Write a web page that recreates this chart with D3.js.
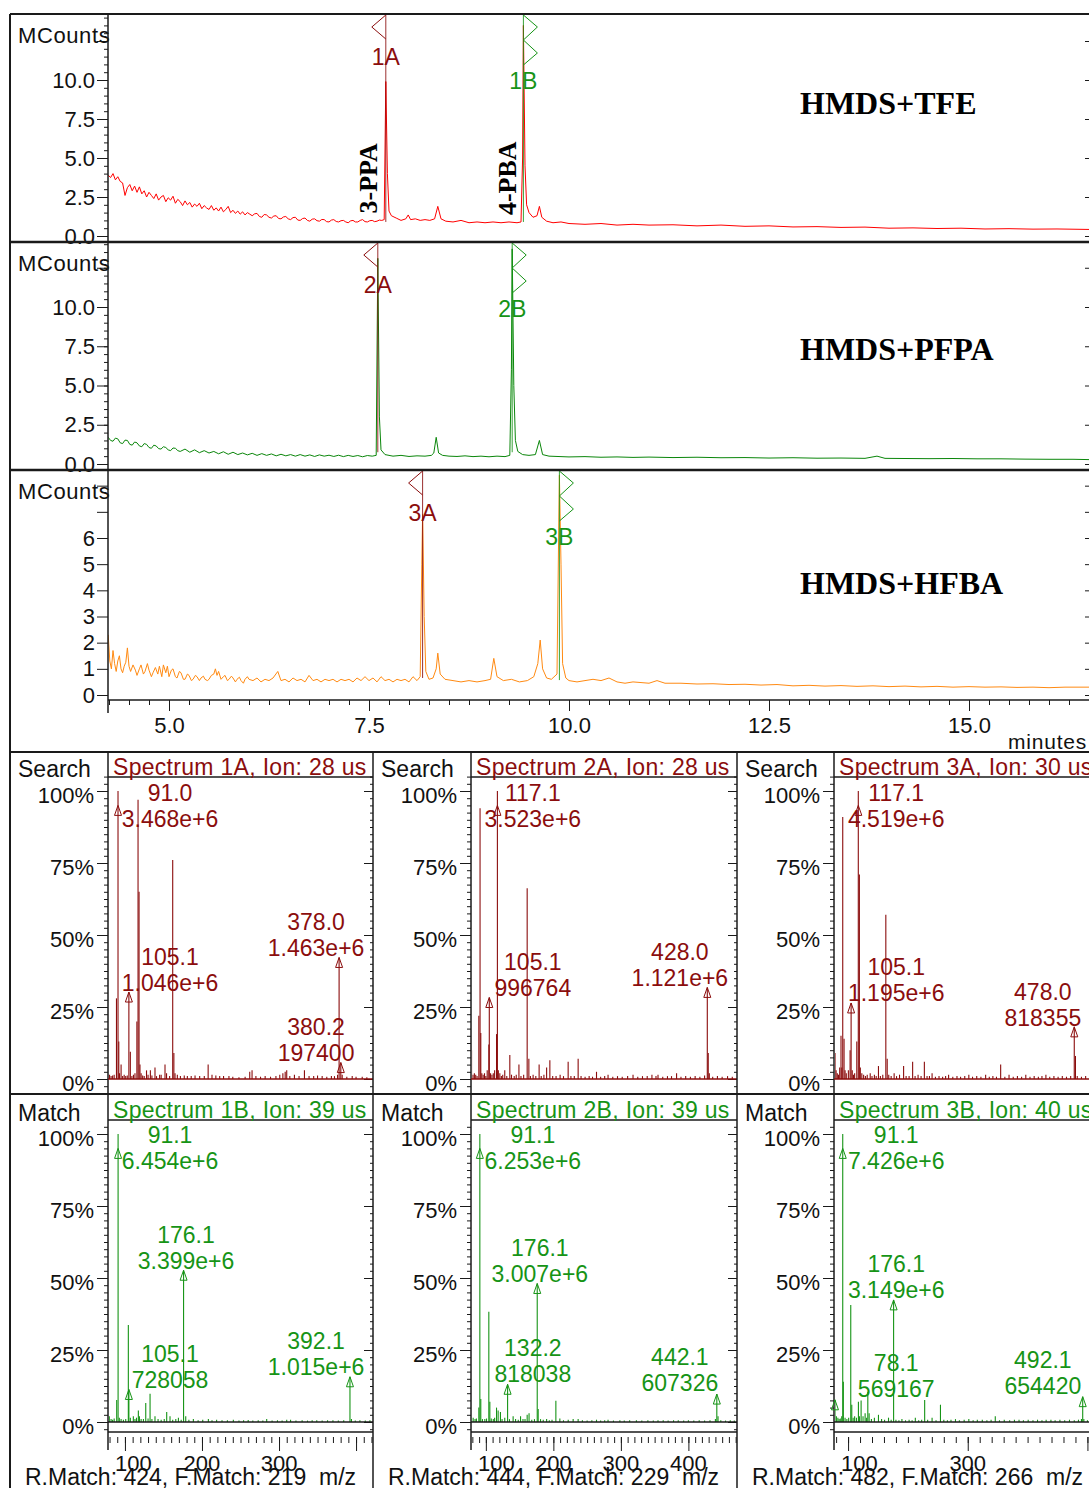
<!DOCTYPE html>
<html><head><meta charset="utf-8">
<script src="https://cdn.jsdelivr.net/npm/d3@7/dist/d3.min.js"></script>
<style>
body{margin:0;background:#fff;}
svg{display:block;font-family:"Liberation Sans",Arial,sans-serif;}
</style></head><body>
<svg id="chart" width="1089" height="1488"></svg>
<script>
// ---------------- DATA ----------------
// Chromatograms: [time (min), MCounts]
const traceTFE = [[4.24,3.9],[4.27,3.75],[4.30,4.0],[4.33,3.6],[4.36,3.8],[4.39,3.5],[4.42,3.4],[4.45,2.6],[4.48,3.1],[4.51,3.3],[4.54,2.9],[4.57,3.2],[4.60,2.8],[4.63,3.15],[4.66,2.7],[4.69,2.9],[4.72,2.5],[4.75,2.8],[4.78,2.6],[4.81,2.4],[4.84,2.7],[4.87,2.3],[4.90,2.5],[4.93,2.6],[4.96,2.2],[4.99,2.45],[5.02,2.3],[5.05,2.55],[5.08,2.1],[5.11,2.35],[5.14,2.2],[5.17,1.95],[5.20,2.25],[5.23,2.0],[5.26,2.15],[5.29,1.85],[5.32,2.05],[5.35,1.9],[5.38,2.1],[5.41,1.75],[5.44,1.95],[5.47,1.8],[5.50,1.7],[5.53,1.95],[5.56,1.65],[5.59,1.8],[5.62,1.6],[5.65,1.85],[5.68,1.55],[5.71,1.7],[5.74,1.9],[5.77,1.5],[5.80,1.65],[5.83,1.45],[5.86,1.6],[5.89,1.4],[5.92,1.55],[5.95,1.35],[5.98,1.5],[6.01,1.4],[6.04,1.3],[6.07,1.42],[6.10,1.45],[6.13,1.25],[6.16,1.2],[6.19,1.38],[6.22,1.35],[6.25,1.2],[6.28,1.15],[6.31,1.28],[6.34,1.3],[6.37,1.12],[6.40,1.1],[6.43,1.22],[6.46,1.25],[6.49,1.1],[6.52,1.05],[6.55,1.18],[6.58,1.2],[6.61,1.02],[6.64,1.0],[6.67,1.12],[6.70,1.15],[6.73,1.0],[6.76,0.95],[6.79,1.08],[6.82,1.1],[6.85,0.98],[6.88,0.95],[6.91,1.06],[6.94,1.05],[6.97,0.92],[7.00,0.9],[7.03,1.02],[7.06,1.05],[7.09,0.93],[7.12,0.9],[7.15,0.98],[7.18,1.0],[7.21,0.9],[7.24,0.85],[7.27,0.97],[7.30,1.0],[7.33,0.9],[7.36,0.9],[7.39,1.0],[7.42,1.05],[7.45,0.92],[7.48,0.9],[7.51,0.98],[7.54,1.0],[7.57,0.92],[7.60,0.95],[7.63,1.02],[7.66,1.0],[7.69,1.05],[7.71,9.9],[7.73,4.0],[7.75,1.6],[7.78,1.3],[7.84,1.15],[7.90,1.0],[7.96,1.1],[7.99,1.35],[8.02,1.05],[8.08,1.1],[8.14,1.0],[8.20,1.05],[8.26,1.0],[8.32,1.1],[8.36,1.9],[8.40,1.1],[8.46,0.95],[8.55,0.9],[8.65,1.0],[8.75,0.85],[8.85,0.9],[8.95,0.85],[9.05,0.9],[9.15,0.85],[9.25,0.9],[9.35,0.85],[9.40,0.9],[9.42,5.0],[9.43,13.5],[9.45,4.5],[9.47,2.0],[9.50,1.5],[9.55,1.2],[9.60,1.3],[9.63,1.9],[9.66,1.2],[9.72,0.95],[9.80,0.85],[9.90,0.9],[10.0,0.8],[10.2,0.75],[10.4,0.8],[10.6,0.7],[10.8,0.75],[11.0,0.7],[11.3,0.72],[11.6,0.65],[11.9,0.7],[12.2,0.62],[12.5,0.65],[12.8,0.58],[13.1,0.6],[13.4,0.55],[13.7,0.57],[14.0,0.5],[14.3,0.52],[14.6,0.48],[14.9,0.5],[15.2,0.45],[15.5,0.47],[15.8,0.44],[16.1,0.45],[16.5,0.42]];
const tracePFPA = [[4.24,1.7],[4.27,1.5],[4.30,1.45],[4.33,1.65],[4.36,1.6],[4.39,1.35],[4.42,1.3],[4.45,1.52],[4.48,1.5],[4.51,1.25],[4.54,1.2],[4.57,1.4],[4.60,1.35],[4.63,1.15],[4.66,1.1],[4.69,1.3],[4.72,1.25],[4.75,1.05],[4.78,1.0],[4.81,1.2],[4.84,1.15],[4.87,0.98],[4.90,0.95],[4.93,1.1],[4.96,1.05],[4.99,0.9],[5.02,0.85],[5.05,1.02],[5.08,1.0],[5.11,0.85],[5.14,0.8],[5.20,0.95],[5.26,0.75],[5.32,0.9],[5.38,0.72],[5.44,0.85],[5.50,0.7],[5.56,0.8],[5.62,0.65],[5.68,0.78],[5.74,0.62],[5.80,0.75],[5.86,0.6],[5.92,0.7],[5.98,0.58],[6.04,0.68],[6.10,0.55],[6.16,0.66],[6.22,0.55],[6.28,0.64],[6.34,0.52],[6.40,0.62],[6.46,0.52],[6.52,0.6],[6.58,0.5],[6.64,0.6],[6.70,0.5],[6.76,0.58],[6.82,0.48],[6.88,0.58],[6.94,0.5],[7.00,0.56],[7.06,0.48],[7.12,0.56],[7.18,0.47],[7.24,0.55],[7.30,0.48],[7.36,0.54],[7.42,0.46],[7.48,0.54],[7.54,0.5],[7.59,0.55],[7.61,13.1],[7.63,3.0],[7.65,0.9],[7.70,0.6],[7.80,0.5],[7.90,0.55],[8.00,0.48],[8.10,0.52],[8.20,0.5],[8.28,0.55],[8.31,0.7],[8.34,1.7],[8.37,0.7],[8.42,0.55],[8.5,0.5],[8.6,0.48],[8.7,0.52],[8.8,0.47],[8.9,0.5],[9.0,0.46],[9.1,0.5],[9.2,0.47],[9.26,0.55],[9.28,6.0],[9.29,13.7],[9.31,5.0],[9.33,1.5],[9.36,0.8],[9.42,0.6],[9.5,0.55],[9.58,0.6],[9.63,1.5],[9.67,0.6],[9.75,0.5],[9.9,0.47],[10.0,0.45],[10.2,0.47],[10.4,0.43],[10.6,0.45],[10.8,0.42],[11.0,0.44],[11.3,0.41],[11.6,0.43],[11.9,0.4],[12.2,0.41],[12.5,0.38],[12.8,0.4],[13.1,0.37],[13.4,0.38],[13.7,0.36],[13.85,0.5],[13.95,0.36],[14.2,0.35],[14.5,0.34],[14.8,0.35],[15.1,0.33],[15.4,0.33],[15.7,0.31],[16.0,0.3],[16.3,0.3],[16.5,0.28]];
const traceHFBA = [[4.24,2.3],[4.26,1.3],[4.28,1.0],[4.30,1.7],[4.32,1.2],[4.34,0.9],[4.36,1.3],[4.38,1.5],[4.40,1.0],[4.42,0.85],[4.44,1.1],[4.46,1.25],[4.48,1.8],[4.50,1.1],[4.52,0.9],[4.55,1.15],[4.58,0.95],[4.60,0.75],[4.63,1.0],[4.65,1.15],[4.68,0.8],[4.70,0.9],[4.73,1.2],[4.75,0.95],[4.78,0.7],[4.80,0.85],[4.83,1.05],[4.86,0.8],[4.88,1.1],[4.91,0.7],[4.93,1.15],[4.96,0.85],[4.98,1.1],[5.00,0.7],[5.03,0.95],[5.05,1.0],[5.08,0.7],[5.10,0.65],[5.13,0.9],[5.15,0.85],[5.18,0.6],[5.20,0.6],[5.23,0.8],[5.25,0.75],[5.28,0.55],[5.30,0.6],[5.33,0.75],[5.35,0.7],[5.38,0.55],[5.40,0.65],[5.43,0.72],[5.45,0.6],[5.48,0.55],[5.50,0.6],[5.53,0.75],[5.56,0.8],[5.58,1.0],[5.60,0.75],[5.62,0.9],[5.65,0.6],[5.68,0.7],[5.70,0.75],[5.73,0.55],[5.75,0.6],[5.78,0.72],[5.80,0.65],[5.83,0.5],[5.85,0.6],[5.88,0.68],[5.90,0.55],[5.93,0.45],[5.95,0.6],[5.98,0.7],[6.00,0.6],[6.05,0.55],[6.10,0.65],[6.15,0.5],[6.20,0.6],[6.25,0.55],[6.30,0.65],[6.36,0.9],[6.40,0.55],[6.45,0.6],[6.50,0.5],[6.55,0.65],[6.60,0.55],[6.65,0.6],[6.70,0.5],[6.75,0.75],[6.80,0.55],[6.85,0.6],[6.90,0.5],[6.95,0.6],[7.00,0.55],[7.05,0.6],[7.10,0.5],[7.15,0.6],[7.20,0.55],[7.25,0.6],[7.30,0.5],[7.35,0.65],[7.40,0.55],[7.45,0.7],[7.50,0.55],[7.55,0.65],[7.60,0.5],[7.65,0.7],[7.70,0.55],[7.75,0.6],[7.80,0.5],[7.85,0.6],[7.90,0.55],[7.95,0.6],[8.00,0.5],[8.05,0.7],[8.10,0.55],[8.14,0.7],[8.16,5.0],[8.17,6.9],[8.19,3.0],[8.21,0.9],[8.25,0.6],[8.30,0.65],[8.34,1.0],[8.36,1.6],[8.39,0.8],[8.45,0.6],[8.55,0.55],[8.65,0.5],[8.75,0.55],[8.85,0.5],[8.95,0.55],[9.02,0.6],[9.06,1.4],[9.10,0.7],[9.18,0.55],[9.28,0.6],[9.38,0.5],[9.48,0.55],[9.56,0.7],[9.61,1.2],[9.64,2.1],[9.67,1.0],[9.72,0.65],[9.78,0.6],[9.85,0.8],[9.87,6.0],[9.88,8.4],[9.90,5.0],[9.92,1.2],[9.96,0.65],[10.0,0.55],[10.1,0.5],[10.2,0.55],[10.3,0.6],[10.4,0.55],[10.5,0.65],[10.6,0.5],[10.7,0.45],[10.8,0.5],[11.0,0.45],[11.1,0.55],[11.2,0.45],[11.4,0.45],[11.6,0.42],[11.8,0.43],[12.0,0.4],[12.2,0.41],[12.4,0.38],[12.6,0.4],[12.8,0.35],[13.0,0.37],[13.2,0.34],[13.4,0.36],[13.6,0.33],[13.8,0.35],[14.0,0.32],[14.2,0.34],[14.4,0.31],[14.6,0.33],[14.8,0.3],[15.0,0.32],[15.2,0.3],[15.4,0.31],[15.6,0.29],[15.8,0.3],[16.0,0.28],[16.2,0.3],[16.5,0.3]];

const chromNames = ["HMDS+TFE", "HMDS+PFPA", "HMDS+HFBA"];
const timeTickLabels = [5.0, 7.5, 10.0, 12.5, 15.0];
// peak markers: id, retention time, baseline value where marker line stops, kind
const markers = [
  [{id:"1A", t:7.71, base:0.9, kind:"A"}, {id:"1B", t:9.43, base:0.9, kind:"B"}],
  [{id:"2A", t:7.61, base:0.75, kind:"A"}, {id:"2B", t:9.29, base:0.75, kind:"B"}],
  [{id:"3A", t:8.17, base:0.65, kind:"A"}, {id:"3B", t:9.88, base:0.57, kind:"B"}]
];
const compoundNames = [{text:"3-PPA", t:7.49, v:3.7}, {text:"4-PBA", t:9.225, v:3.7}];

// Mass spectra: [m/z, relative %]
const spec1A = [[78,5],[80,1.5],[82,1],[84,1.2],[86,1.5],[89,28],[91,100],[92,13],[93,2],[95,5],[97,1],[99,1.5],[101,1],[103,1.2],[105.1,30.2],[107,9.5],[109,1],[111,1.5],[113,2],[115.5,20],[117,97],[118.3,65],[119.5,5],[121,2],[123,1.2],[125,1],[128,3],[130,1.5],[133,3],[135,1.2],[139,4],[141,1],[145,1.5],[147,1.5],[152,5],[154,2],[158,1],[162,76],[163.5,9],[165,2],[168,1.5],[172,1],[177,1.2],[181,1],[186,1],[191,1.2],[197,1],[203,1],[208,5],[213,1.5],[218,1.2],[223,1],[228,1],[235,1],[240,0.8],[248,0.6],[256,0.8],[262,2.5],[265,3],[270,1],[276,0.8],[282,1],[289,0.8],[296,1],[301,1.5],[305,2],[308,2.5],[310,3],[314,1],[320,1.5],[326,1],[333,3],[339,1],[345,1],[350,1.2],[356,1],[362,0.8],[368,1],[372,1],[376,1.5],[378,42.2],[380.2,5.7],[382,1.5],[388,0.8],[395,1],[400,0.8],[408,0.8],[414,0.6]];
const spec2A = [[78.8,10],[81,1.5],[83,2],[85,1.5],[87,1],[89.6,22],[91.4,94],[92.5,16],[94,2],[96,1.5],[98,2],[100,1],[102,3],[104.4,12],[105.1,28.3],[107,2],[109,1.5],[111,2],[113,3],[115.8,15.6],[117.1,100],[118.5,3],[120.7,2],[123,1],[125,1.5],[128,3],[131,1],[135.5,8.3],[138,1.5],[142,1],[145,1.5],[149,5],[152,1],[156,1.5],[161.2,66.2],[163.7,7],[166,1],[170,1.5],[174,1],[178.9,5],[182,1],[186,1.5],[190,4],[194.8,6.5],[199,1],[204,1],[210,1.5],[215,1],[221.9,6],[226,1],[231,1],[236.7,7],[241,1],[247,0.8],[253,1],[258,0.8],[263.9,2.5],[270,0.8],[276,1],[281,1.5],[288,0.8],[295,1],[302,0.8],[310,1],[318,1.5],[325,0.8],[332,1],[339,1],[346,1.5],[352,1],[355,1.5],[362,0.8],[369,1],[375,1],[382.5,2],[389,0.8],[396,1],[403,0.8],[410,1],[417,0.8],[424,1.2],[428,31.8],[429.4,9],[431,2],[436,0.8],[443,1],[450,0.8],[458,1],[465,0.8]];
const spec3A = [[78.2,9],[80,3],[82,2],[84,1.5],[86,4],[88.2,15],[89.5,4],[91.1,91],[93.3,14],[95,3],[97,2],[100.5,3],[103.4,10],[105.1,26.4],[107,3],[109,1.5],[111,2],[114.6,13],[117.1,100],[118.9,71],[120.5,4],[123,2],[126,1.5],[129,1],[132,1.5],[137,2],[140,1],[144,1.5],[147,1],[150.8,4.5],[154,1],[158,1.5],[163.1,57],[165.4,7],[168,1.5],[172,1],[177,2],[181,1],[186,1.5],[192.8,4.5],[197,1],[202,1],[207.9,6],[212,1],[217,1.5],[222,1],[227.5,6],[232,1],[236,1],[240.4,2],[246,0.8],[252,1],[258,0.8],[263,1],[268,1.5],[275,0.8],[282,1],[288,0.8],[295,1],[301.8,1.5],[308,0.8],[315,1],[322,0.8],[329.9,1.5],[336,0.8],[342,1],[348,0.8],[355,5],[362,0.8],[369,1.5],[376,0.8],[383,1],[390,0.8],[397,1.5],[404,0.8],[411,1],[418,0.8],[424,1],[430.6,1.5],[437,0.8],[444,1],[451,0.8],[458,1],[465,0.8],[472,1],[478,18.1],[480,8],[483,1],[490,0.8],[497,1]];
const spec1B = [[78.5,1.5],[79.7,2],[82,1],[84,0.8],[86,1.2],[89.3,7.6],[91.1,100],[92.7,1.5],[95,1],[98,0.8],[101,1],[104.4,33.7],[105.1,11.3],[107,1.5],[110.9,2],[113,1],[115,1.5],[117.4,4],[118.8,2],[121,1],[124,1],[127,6.6],[130,1.2],[132.6,9.8],[135,1],[139,2],[143,1],[147,0.8],[151,1],[154.2,3.5],[158.5,2],[162,0.8],[166,1],[169.4,1.5],[173,0.8],[176.1,52.7],[178.9,2],[183,0.8],[188.8,1],[195,0.6],[201,0.8],[208.3,1],[213,0.6],[219,0.8],[226,0.6],[233,0.6],[240.7,0.8],[248,0.5],[254,0.6],[260,0.7],[266,0.5],[273,0.6],[279,0.5],[284,1],[291,0.5],[298,0.6],[304,0.5],[310,0.8],[315,0.8],[322,0.5],[330,0.6],[337,0.5],[343,0.6],[349,0.6],[356,0.5],[363,0.6],[370,0.6],[377,0.5],[384,0.6],[392.1,15.7],[394,1],[399,0.5],[405,0.6],[412,0.5],[418,0.6]];
const spec2B = [[78.5,1],[81.2,1.5],[84,1],[86,1.2],[89.6,5],[91.1,100],[92.5,8],[95,1],[98.5,1],[101,1.2],[104.4,38.3],[105.9,7],[108,1.2],[111,1],[113,1.5],[115.8,5],[118.2,4],[121.6,3.5],[124,1],[128,1.5],[132.2,13.1],[135,1],[140.4,2],[144,1],[148,0.8],[151.4,2],[155,1],[158,1],[161.2,2.5],[164,3],[168,0.8],[172,1],[176.1,48.1],[177.5,4.5],[181,1],[185,0.8],[190,1],[194,0.6],[198,0.8],[203.7,7.4],[209.6,1.2],[215,0.6],[222,0.8],[229.3,1],[236.7,1],[243,0.6],[250,0.5],[257,0.6],[263.9,0.8],[270,0.5],[276,0.6],[281,0.8],[289,0.5],[298.5,0.6],[305,0.5],[313,0.6],[323,0.6],[331,0.5],[340,0.6],[348,0.5],[355,0.6],[362.7,0.6],[370,0.5],[378,0.6],[385,0.6],[393,0.5],[400,0.6],[408,0.5],[416,0.6],[424,0.5],[432,0.6],[440,1],[442.1,9.7],[443.9,2],[448,0.6],[455,0.5],[462,0.6],[468,0.5]];
const spec3B = [[78.1,7.7],[80.5,2],[83,1.5],[85,1],[87,1.2],[89.4,2],[91.1,100],[92.1,14],[95,1.5],[98,1],[101,1.5],[104.5,40.6],[106.2,6],[108.5,1.5],[111,2],[114,1.5],[117.3,7],[119,2],[121.8,7.5],[125,2],[128.5,3],[131,1.5],[133,10.5],[135.2,3],[139,1],[144,1.5],[150.8,2.5],[156,1],[161,0.8],[167.6,1.5],[172,0.8],[176.1,42.4],[180,0.8],[185,0.6],[190,1],[196,0.6],[202,0.8],[207,0.6],[212.4,1.5],[218,0.6],[223,0.8],[228,7.6],[233,0.8],[240.4,1.5],[247,0.6],[254.4,6],[260,0.8],[266,0.6],[272,0.8],[279.5,1],[286,0.6],[294,0.8],[301.8,1],[309,0.6],[316,0.8],[324.3,0.8],[332,0.6],[339,0.8],[346,2],[353,0.6],[361,0.8],[370,0.6],[378,0.8],[385.7,0.8],[393,0.6],[401,0.8],[409,0.6],[416.6,0.8],[424,0.6],[431,0.8],[439,0.8],[446,0.6],[454,0.8],[462,0.6],[470,0.8],[478,0.6],[485,0.8],[490,1],[492.1,8.8],[494,1],[500,0.6]];

// annotated peaks: peak m/z & %, two label lines, label anchor (m/z, %)
const ann1A = [{mz:91.0,pct:100,l1:"91.0",l2:"3.468e+6",lx:158.5,ly:99.3},{mz:105.1,pct:30.2,l1:"105.1",l2:"1.046e+6",lx:158.5,ly:42.4},{mz:378.0,pct:42.2,l1:"378.0",l2:"1.463e+6",lx:348.1,ly:54.5},{mz:380.2,pct:5.7,l1:"380.2",l2:"197400",lx:348.1,ly:18.1}];
const ann2A = [{mz:117.1,pct:100,l1:"117.1",l2:"3.523e+6",lx:169.6,ly:99.3},{mz:105.1,pct:28.3,l1:"105.1",l2:"996764",lx:169.6,ly:40.6},{mz:428.0,pct:31.8,l1:"428.0",l2:"1.121e+6",lx:387.4,ly:44.1}];
const ann3A = [{mz:117.1,pct:100,l1:"117.1",l2:"4.519e+6",lx:180.5,ly:99.3},{mz:105.1,pct:26.4,l1:"105.1",l2:"1.195e+6",lx:180.5,ly:38.9},{mz:478.0,pct:18.1,l1:"478.0",l2:"818355",lx:425.5,ly:30.2}];
const ann1B = [{mz:91.1,pct:100,l1:"91.1",l2:"6.454e+6",lx:158.5,ly:99.7},{mz:176.1,pct:52.7,l1:"176.1",l2:"3.399e+6",lx:179.3,ly:64.9},{mz:105.1,pct:11.3,l1:"105.1",l2:"728058",lx:158.5,ly:23.6},{mz:392.1,pct:15.7,l1:"392.1",l2:"1.015e+6",lx:348.1,ly:28.1}];
const ann2B = [{mz:91.1,pct:100,l1:"91.1",l2:"6.253e+6",lx:169.6,ly:99.7},{mz:176.1,pct:48.1,l1:"176.1",l2:"3.007e+6",lx:180,ly:60.4},{mz:132.2,pct:13.1,l1:"132.2",l2:"818038",lx:169.6,ly:25.7},{mz:442.1,pct:9.7,l1:"442.1",l2:"607326",lx:387.4,ly:22.6}];
const ann3B = [{mz:91.1,pct:100,l1:"91.1",l2:"7.426e+6",lx:180.5,ly:99.7},{mz:176.1,pct:42.4,l1:"176.1",l2:"3.149e+6",lx:180.5,ly:54.9},{mz:78.1,pct:7.7,l1:"78.1",l2:"569167",lx:180.5,ly:20.5},{mz:492.1,pct:8.8,l1:"492.1",l2:"654420",lx:425.5,ly:21.5}];

const specTitles = [["Spectrum 1A, Ion: 28 us","Spectrum 2A, Ion: 28 us","Spectrum 3A, Ion: 30 us"],
                    ["Spectrum 1B, Ion: 39 us","Spectrum 2B, Ion: 39 us","Spectrum 3B, Ion: 40 us"]];
const matchTexts = ["R.Match: 424, F.Match: 219  m/z","R.Match: 444, F.Match: 229  m/z","R.Match: 482, F.Match: 266  m/z"];
const mzDomains = [[78,422],[78,472],[76.5,521]];
const mzTickLabels = [[100,200,300],[100,200,300,400],[100,300]];
const mzMajorTicks = [[100,200,300,400],[100,200,300,400],[100,300,500]];
const mzMinorStep = [10,10,20];
const pctTicks = [0,25,50,75,100];

// ---------------- LAYOUT / STYLE ----------------
const svg = d3.select("#chart");
const SANS = '"Liberation Sans",Arial,sans-serif';
const SERIF = '"Liberation Serif","Times New Roman",serif';
const INK = "#1a1a1a";
const DARKRED = "#8b0d0d";
const GREEN = "#169416";
const chromColors = ["#ff0000","#0a860a","#ff8a12"];
const xLeft = 108, xRight = 1089;
const panels = [
  {top:14, bottom:242, y0:236, vRef:10, yRef:80, major:[0,2.5,5,7.5,10,12.5], labelMax:10, minor:0.5, fmt:d3.format(".1f"), nameY:114},
  {top:242, bottom:470, y0:464, vRef:10, yRef:307, major:[0,2.5,5,7.5,10,12.5], labelMax:10, minor:0.5, fmt:d3.format(".1f"), nameY:360},
  {top:470, bottom:700, y0:695, vRef:6, yRef:538, major:[0,1,2,3,4,5,6,7,8], labelMax:6, minor:null, fmt:d3.format("d"), nameY:594}
];
const traces = [traceTFE, tracePFPA, traceHFBA];
const xT = d3.scaleLinear().domain([5,15]).range([169,969]);

function line(x1,y1,x2,y2,w,c){
  svg.append("line").attr("x1",x1).attr("y1",y1).attr("x2",x2).attr("y2",y2)
    .attr("stroke",c||INK).attr("stroke-width",w||1);
}
function txt(x,y,s,size,color,font){
  return svg.append("text").attr("x",x).attr("y",y).style("font-family",font||SANS)
    .style("font-size",size+"px").attr("fill",color||"#111").text(s);
}
function styleAxis(g, size){
  g.select(".domain").remove();
  g.selectAll("line").attr("stroke",INK);
  g.selectAll("text").style("font-size",(size||22)+"px").attr("fill","#111").style("font-family",SANS);
}

// ---- chromatogram panels ----
panels.forEach((p,i)=>{
  const y = d3.scaleLinear().domain([0,p.vRef]).range([p.y0,p.yRef]);
  const cid = "clipc"+i;
  svg.append("clipPath").attr("id",cid).append("rect")
    .attr("x",xLeft).attr("y",p.top+1).attr("width",xRight-xLeft).attr("height",p.bottom-p.top-1);

  const ga = svg.append("g").attr("transform",`translate(${xLeft},0)`)
    .call(d3.axisLeft(y).tickValues(p.major).tickSize(11).tickPadding(2)
      .tickFormat(d=> d<=p.labelMax ? p.fmt(d) : ""));
  styleAxis(ga,22);
  if(p.minor){
    const mv = d3.range(0,14.01,p.minor).filter(v=>y(v)>p.top+1);
    const gm = svg.append("g").attr("transform",`translate(${xLeft},0)`)
      .call(d3.axisLeft(y).tickValues(mv).tickSize(4).tickFormat(""));
    styleAxis(gm);
  }
  const gr = svg.append("g").attr("transform",`translate(${xRight},0)`)
    .call(d3.axisLeft(y).tickValues(p.major.filter(v=>y(v)>p.top+2)).tickSize(4).tickFormat(""));
  styleAxis(gr);

  txt(18,p.top+29,"MCounts",22).attr("letter-spacing",0.6);

  svg.append("path").datum(traces[i]).attr("clip-path",`url(#${cid})`)
    .attr("d", d3.line().x(d=>xT(d[0])).y(d=>y(d[1])))
    .attr("fill","none").attr("stroke",chromColors[i]).attr("stroke-width",1);

  markers[i].forEach(m=>{
    const mx = xT(m.t);
    const col = m.kind==="A" ? DARKRED : GREEN;
    svg.append("line").attr("x1",mx).attr("x2",mx).attr("y1",p.top+1).attr("y2",y(m.base))
      .attr("stroke",col).attr("stroke-width",1).attr("opacity",0.85);
    const pts = m.kind==="A"
      ? [[mx,p.top+1],[mx-14,p.top+13],[mx,p.top+25]]
      : [[mx,p.top+1],[mx+14,p.top+13],[mx,p.top+26],[mx+14,p.top+39],[mx,p.top+51]];
    svg.append("polyline").attr("points",pts.map(q=>q.join(",")).join(" "))
      .attr("fill","none").attr("stroke",col).attr("stroke-width",1);
    txt(mx,p.top+(m.kind==="A"?51:75),m.id,23,col).attr("text-anchor","middle");
  });

  if(i===0){
    compoundNames.forEach(c=>{
      svg.append("text").attr("transform",`translate(${xT(c.t)+9},${y(c.v)}) rotate(-90)`)
        .attr("text-anchor","middle").style("font-family",SERIF)
        .style("font-weight","bold").style("font-size","26px").attr("fill","#000").text(c.text);
    });
  }
  txt(800,p.nameY,chromNames[i],32,"#000",SERIF).style("font-weight","bold");
});

// time axis
const gMinor = svg.append("g").attr("transform","translate(0,700)")
  .call(d3.axisBottom(xT).tickValues(d3.range(4.25,16.51,0.25)).tickSize(5).tickFormat(""));
styleAxis(gMinor);
const gMajor = svg.append("g").attr("transform","translate(0,700)")
  .call(d3.axisBottom(xT).tickValues(timeTickLabels).tickSize(11).tickFormat(d3.format(".1f")));
styleAxis(gMajor,22);
gMajor.selectAll("text").attr("y",33).attr("dy",0);
line(xLeft,700,xRight,700,1.5);
txt(1008,749,"minutes",21).attr("letter-spacing",0.8);

line(10,14,1089,14,2);
line(10,242,1089,242,2.5);
line(10,470,1089,470,2.5);
line(xLeft,14,xLeft,713,1.5);

// ---- spectra ----
const cols = [{x0:10,axis:108,right:373},{x0:373,axis:471,right:737},{x0:737,axis:834,right:1100}];
const rows = [
  {top:752, bottom:1094, titleLine:777, p0:1079, p100:791, label:"Search", labelBase:777, titleBase:775, color:DARKRED,
   spectra:[spec1A,spec2A,spec3A], ann:[ann1A,ann2A,ann3A], minorFrom:-5, minorTo:105, axisBottom:1094},
  {top:1094, bottom:1488, titleLine:1120, p0:1422, p100:1134, label:"Match", labelBase:1121, titleBase:1118, color:GREEN,
   spectra:[spec1B,spec2B,spec3B], ann:[ann1B,ann2B,ann3B], minorFrom:-2.5, minorTo:102.5, axisBottom:1450}
];

rows.forEach((r,ri)=>{
  line(10,r.top,1089,r.top,2);
  cols.forEach((c,ci)=>{
    const x = d3.scaleLinear().domain(mzDomains[ci]).range([c.axis,c.right]);
    const y = d3.scaleLinear().domain([0,100]).range([r.p0,r.p100]);
    const cid = `clips${ri}${ci}`;
    svg.append("clipPath").attr("id",cid).append("rect")
      .attr("x",c.axis+1).attr("y",r.titleLine+1).attr("width",c.right-c.axis-2).attr("height",r.p0-r.titleLine);

    if(ci>0) line(c.x0,r.top,c.x0,r.bottom,1.5);
    line(c.axis,r.top,c.axis,r.axisBottom,1.5);
    line(c.axis,r.titleLine,c.right,r.titleLine,1.5);

    const ga = svg.append("g").attr("transform",`translate(${c.axis},0)`)
      .call(d3.axisLeft(y).tickValues(pctTicks).tickSize(11).tickPadding(3).tickFormat(d=>d+"%"));
    styleAxis(ga,22);
    ga.selectAll("text").attr("dy","0.5em");
    const mv = d3.range(r.minorFrom, r.minorTo+0.01, 2.5);
    const gm = svg.append("g").attr("transform",`translate(${c.axis},0)`)
      .call(d3.axisLeft(y).tickValues(mv).tickSize(4).tickFormat(""));
    styleAxis(gm);
    const gr = svg.append("g").attr("transform",`translate(${c.right},0)`)
      .call(d3.axisLeft(y).tickValues(pctTicks).tickSize(9).tickFormat(""));
    styleAxis(gr);
    const gr2 = svg.append("g").attr("transform",`translate(${c.right},0)`)
      .call(d3.axisLeft(y).tickValues(mv).tickSize(3).tickFormat(""));
    styleAxis(gr2);

    txt(c.x0+8,r.labelBase,r.label,23);
    txt(c.axis+5,r.titleBase,specTitles[ri][ci],23,r.color).attr("letter-spacing",0.3).style("white-space","pre");

    const gb = svg.append("g").attr("clip-path",`url(#${cid})`);
    gb.selectAll("line").data(r.spectra[ci]).join("line")
      .attr("x1",d=>x(d[0])).attr("x2",d=>x(d[0]))
      .attr("y1",y(0)).attr("y2",d=>y(d[1]))
      .attr("stroke",r.color).attr("stroke-width",1.1);
    svg.append("line").attr("x1",c.axis).attr("x2",Math.min(c.right,1089)).attr("y1",y(0)).attr("y2",y(0))
      .attr("stroke", ri===0 ? r.color : INK).attr("stroke-width",1.3);

    r.ann[ci].forEach(a=>{
      const ax = x(a.mz), ty = y(Math.min(a.pct,95));
      svg.append("polygon").attr("points",`${ax},${ty} ${ax-3.5},${ty+10} ${ax+3.5},${ty+10}`)
        .attr("fill","none").attr("stroke",r.color).attr("stroke-width",1);
      const lx = x(a.lx), ly = y(a.ly);
      txt(lx,ly+8,a.l1,23,r.color).attr("text-anchor","middle");
      txt(lx,ly+34,a.l2,23,r.color).attr("text-anchor","middle");
    });

    if(ri===1){
      line(c.axis,1432,Math.min(c.right,1089),1432,1.3);
      const ticksMinor = d3.range(Math.ceil(mzDomains[ci][0]/mzMinorStep[ci])*mzMinorStep[ci], mzDomains[ci][1], mzMinorStep[ci]);
      const gxm = svg.append("g").attr("transform","translate(0,1437)")
        .call(d3.axisBottom(x).tickValues(ticksMinor).tickSize(6).tickFormat(""));
      styleAxis(gxm);
      const gxM = svg.append("g").attr("transform","translate(0,1437)")
        .call(d3.axisBottom(x).tickValues(mzMajorTicks[ci]).tickSize(14).tickFormat(""));
      styleAxis(gxM);
      mzTickLabels[ci].forEach(v=>{
        const t = txt(0,1471,v,22).attr("text-anchor","middle");
        const w = t.node().getComputedTextLength();
        t.attr("x", Math.max(x(v), c.axis + 7 + w/2));
      });
      txt(c.x0+15,1485,matchTexts[ci],23).style("white-space","pre");
    }
  });
});
line(10,14,10,1488,2);
</script></body></html>
